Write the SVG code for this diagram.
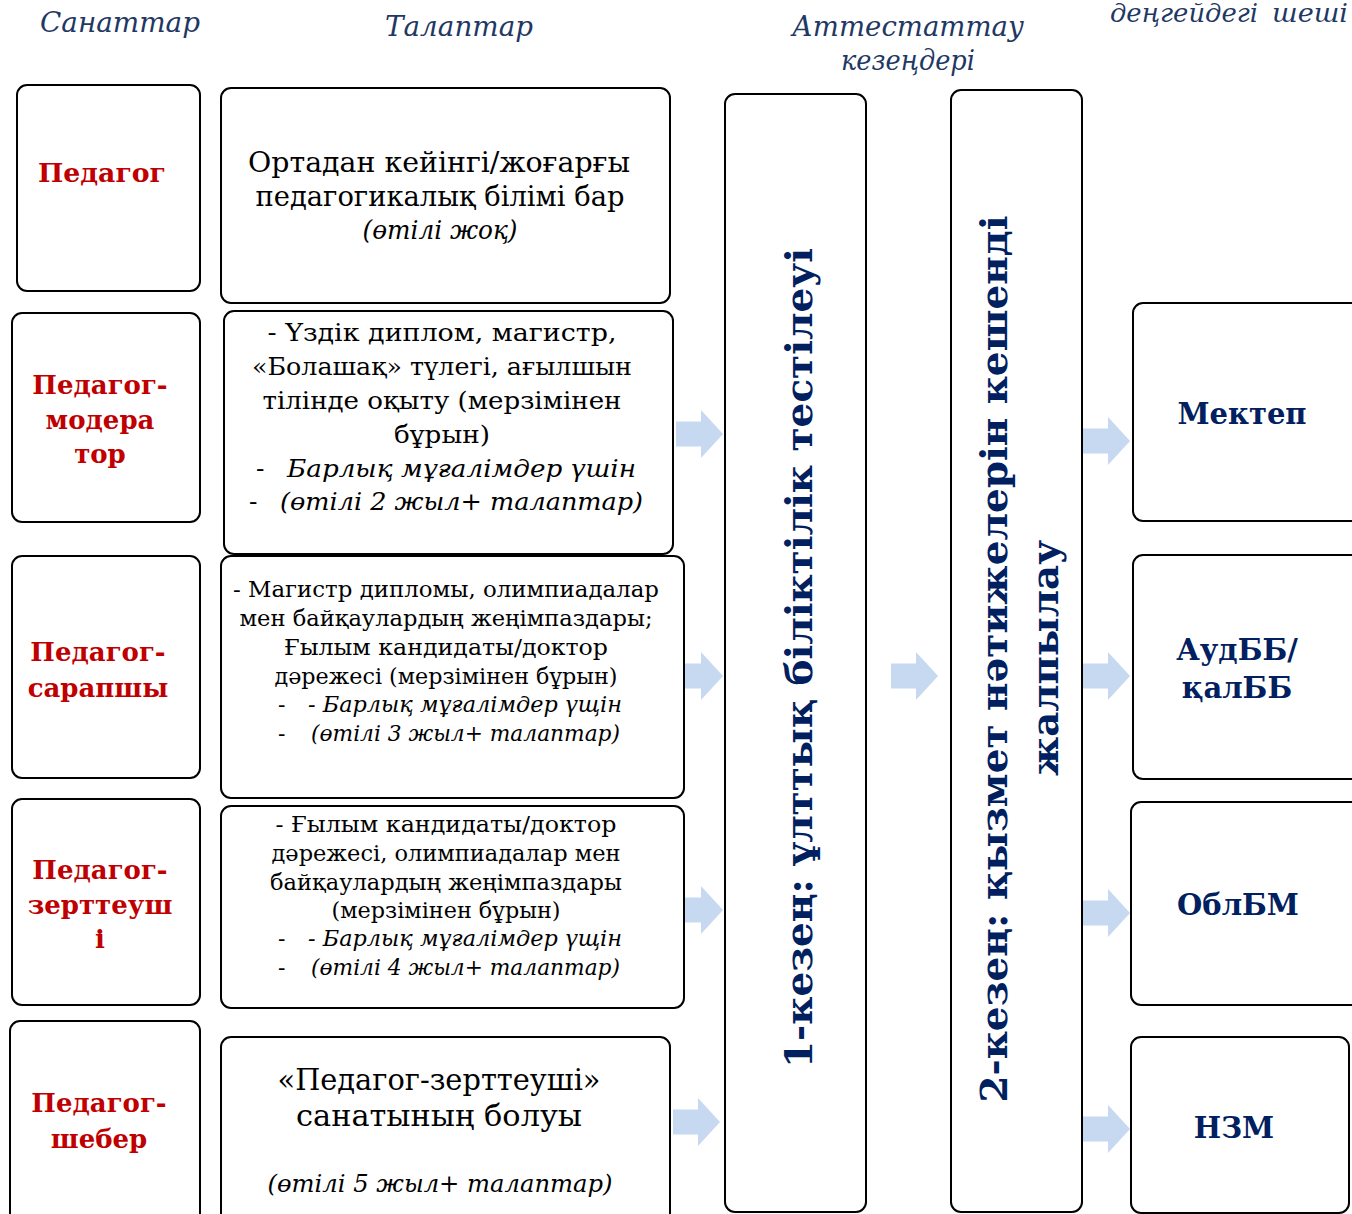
<svg xmlns="http://www.w3.org/2000/svg" width="1352" height="1214" viewBox="0 0 1352 1214">
<style>
  .box{fill:#fff;stroke:#000;stroke-width:2}
  .hdr{font-family:"DejaVu Serif",serif;font-style:italic;font-size:28px;fill:#1F3864;text-anchor:middle}
  .cat{font-family:"DejaVu Serif",serif;font-weight:bold;font-size:26px;fill:#C00000;text-anchor:middle}
  .req{font-family:"DejaVu Serif",serif;fill:#000;text-anchor:middle}
  .reqs{font-family:"DejaVu Serif",serif;fill:#000}
  .it{font-style:italic}
  .stage{font-family:"DejaVu Serif",serif;font-weight:bold;font-size:37px;fill:#002060;text-anchor:middle}
  .lvl{font-family:"DejaVu Serif",serif;font-weight:bold;font-size:29px;fill:#002060;text-anchor:middle}
  .arr{fill:#C6D9F1}
</style>
<defs>
  <path id="arrow" d="M0,-12.5 H25 V-24 L47,0 L25,24 V12.5 H0 Z"/>
</defs>
<rect width="1352" height="1214" fill="#fff"/>

<g id="headers">
  <text class="hdr" x="120" y="32" textLength="160" lengthAdjust="spacingAndGlyphs">Санаттар</text>
  <text class="hdr" x="459" y="36" textLength="148" lengthAdjust="spacingAndGlyphs">Талаптар</text>
  <text class="hdr" x="908" y="36" textLength="232" lengthAdjust="spacingAndGlyphs">Аттестаттау</text>
  <text class="hdr" x="908" y="70" textLength="134" lengthAdjust="spacingAndGlyphs">кезеңдері</text>
  <text class="hdr" style="text-anchor:start;font-size:26px" y="22"><tspan x="1110" textLength="148" lengthAdjust="spacingAndGlyphs">деңгейдегі</tspan><tspan x="1272" textLength="76" lengthAdjust="spacingAndGlyphs">шеші</tspan></text>
</g>

<g id="connectors">
  <use href="#arrow" class="arr" x="676" y="434"/>
  <use href="#arrow" class="arr" x="676" y="676"/>
  <use href="#arrow" class="arr" x="676" y="910"/>
  <use href="#arrow" class="arr" x="673" y="1122"/>
  <use href="#arrow" class="arr" x="891" y="676"/>
  <use href="#arrow" class="arr" x="1083" y="441"/>
  <use href="#arrow" class="arr" x="1083" y="676"/>
  <use href="#arrow" class="arr" x="1083" y="913"/>
  <use href="#arrow" class="arr" x="1083" y="1129"/>
</g>

<g id="cat-pedagog">
  <rect class="box" x="17" y="85" width="183" height="206" rx="10"/>
  <text class="cat" x="102" y="182" textLength="128" lengthAdjust="spacingAndGlyphs">Педагог</text>
</g>
<g id="cat-moderator">
  <rect class="box" x="12" y="313" width="188" height="209" rx="10"/>
  <text class="cat" x="100" y="394">Педагог-</text>
  <text class="cat" x="100" y="429">модера</text>
  <text class="cat" x="100" y="463">тор</text>
</g>
<g id="cat-sarapshy">
  <rect class="box" x="12" y="556" width="188" height="222" rx="10"/>
  <text class="cat" x="98" y="661">Педагог-</text>
  <text class="cat" x="98" y="697">сарапшы</text>
</g>
<g id="cat-zertteushi">
  <rect class="box" x="12" y="799" width="188" height="206" rx="10"/>
  <text class="cat" x="100" y="879">Педагог-</text>
  <text class="cat" x="100" y="914">зерттеуш</text>
  <text class="cat" x="100" y="948">і</text>
</g>
<g id="cat-sheber">
  <rect class="box" x="10" y="1021" width="190" height="205" rx="10"/>
  <text class="cat" x="99" y="1112">Педагог-</text>
  <text class="cat" x="99" y="1148">шебер</text>
</g>

<g id="req-1">
  <rect class="box" x="221" y="88" width="449" height="215" rx="10"/>
  <text class="req" font-size="28" x="439" y="172" textLength="382" lengthAdjust="spacingAndGlyphs">Ортадан кейінгі/жоғарғы</text>
  <text class="req" font-size="28" x="440" y="206" textLength="369" lengthAdjust="spacingAndGlyphs">педагогикалық білімі бар</text>
  <text class="req it" font-size="26" x="440" y="239" textLength="155" lengthAdjust="spacingAndGlyphs">(өтілі жоқ)</text>
</g>
<g id="req-2">
  <rect class="box" x="224" y="311" width="449" height="243" rx="10"/>
  <text class="req" font-size="25" x="442" y="341" textLength="349" lengthAdjust="spacingAndGlyphs">- Үздік диплом, магистр,</text>
  <text class="req" font-size="25" x="442" y="375" textLength="380" lengthAdjust="spacingAndGlyphs">«Болашақ» түлегі, ағылшын</text>
  <text class="req" font-size="25" x="442" y="409" textLength="359" lengthAdjust="spacingAndGlyphs">тілінде оқыту (мерзімінен</text>
  <text class="req" font-size="25" x="442" y="443" textLength="96" lengthAdjust="spacingAndGlyphs">бұрын)</text>
  <text class="reqs" font-size="25" x="256" y="477">-</text>
  <text class="reqs it" font-size="25" x="287" y="477" textLength="349" lengthAdjust="spacingAndGlyphs">Барлық мұғалімдер үшін</text>
  <text class="reqs" font-size="25" x="249" y="510">-</text>
  <text class="reqs it" font-size="25" x="280" y="510" textLength="363" lengthAdjust="spacingAndGlyphs">(өтілі 2 жыл+ талаптар)</text>
</g>
<g id="req-3">
  <rect class="box" x="221" y="556" width="463" height="242" rx="10"/>
  <text class="req" font-size="22" x="446" y="597" textLength="426" lengthAdjust="spacingAndGlyphs">- Магистр дипломы, олимпиадалар</text>
  <text class="req" font-size="22" x="446" y="626" textLength="413" lengthAdjust="spacingAndGlyphs">мен байқаулардың жеңімпаздары;</text>
  <text class="req" font-size="22" x="446" y="655" textLength="324" lengthAdjust="spacingAndGlyphs">Ғылым кандидаты/доктор</text>
  <text class="req" font-size="22" x="446" y="684" textLength="343" lengthAdjust="spacingAndGlyphs">дәрежесі (мерзімінен бұрын)</text>
  <text class="reqs" font-size="22" x="278" y="712">-</text>
  <text class="reqs it" font-size="22" x="308" y="712" textLength="314" lengthAdjust="spacingAndGlyphs">- Барлық мұғалімдер үщін</text>
  <text class="reqs" font-size="22" x="278" y="741">-</text>
  <text class="reqs it" font-size="22" x="311" y="741" textLength="309" lengthAdjust="spacingAndGlyphs">(өтілі 3 жыл+ талаптар)</text>
</g>
<g id="req-4">
  <rect class="box" x="221" y="806" width="463" height="202" rx="10"/>
  <text class="req" font-size="22" x="446" y="832" textLength="341" lengthAdjust="spacingAndGlyphs">- Ғылым кандидаты/доктор</text>
  <text class="req" font-size="22" x="446" y="861" textLength="349" lengthAdjust="spacingAndGlyphs">дәрежесі, олимпиадалар мен</text>
  <text class="req" font-size="22" x="446" y="890" textLength="352" lengthAdjust="spacingAndGlyphs">байқаулардың жеңімпаздары</text>
  <text class="req" font-size="22" x="446" y="918" textLength="229" lengthAdjust="spacingAndGlyphs">(мерзімінен бұрын)</text>
  <text class="reqs" font-size="22" x="278" y="946">-</text>
  <text class="reqs it" font-size="22" x="308" y="946" textLength="314" lengthAdjust="spacingAndGlyphs">- Барлық мұғалімдер үщін</text>
  <text class="reqs" font-size="22" x="278" y="975">-</text>
  <text class="reqs it" font-size="22" x="311" y="975" textLength="309" lengthAdjust="spacingAndGlyphs">(өтілі 4 жыл+ талаптар)</text>
</g>
<g id="req-5">
  <rect class="box" x="221" y="1037" width="449" height="190" rx="10"/>
  <text class="req" font-size="29" x="439" y="1090" textLength="323" lengthAdjust="spacingAndGlyphs">«Педагог-зерттеуші»</text>
  <text class="req" font-size="29" x="439" y="1126" textLength="286" lengthAdjust="spacingAndGlyphs">санатының болуы</text>
  <text class="req it" font-size="25" x="440" y="1192" textLength="345" lengthAdjust="spacingAndGlyphs">(өтілі 5 жыл+ талаптар)</text>
</g>

<g id="stage-1">
  <rect class="box" x="725" y="94" width="141" height="1118" rx="10"/>
  <text class="stage" transform="translate(812,658) rotate(-90)" x="0" y="0" textLength="820" lengthAdjust="spacingAndGlyphs">1-кезең: ұлттық біліктілік тестілеуі</text>
</g>
<g id="stage-2">
  <rect class="box" x="951" y="90" width="131" height="1122" rx="10"/>
  <text class="stage" transform="translate(1007,659) rotate(-90)" x="0" y="0" textLength="887" lengthAdjust="spacingAndGlyphs">2-кезең: қызмет нәтижелерін кешенді</text>
  <text class="stage" transform="translate(1058,658) rotate(-90)" x="0" y="0" textLength="236" lengthAdjust="spacingAndGlyphs">жалпылау</text>
</g>

<g id="lvl-mektep">
  <rect class="box" x="1133" y="303" width="232" height="218" rx="10"/>
  <text class="lvl" x="1242" y="424">Мектеп</text>
</g>
<g id="lvl-audbb">
  <rect class="box" x="1133" y="555" width="232" height="224" rx="10"/>
  <text class="lvl" x="1237" y="660">АудББ/</text>
  <text class="lvl" x="1237" y="698">қалББ</text>
</g>
<g id="lvl-oblbm">
  <rect class="box" x="1131" y="802" width="234" height="203" rx="10"/>
  <text class="lvl" x="1238" y="915">ОблБМ</text>
</g>
<g id="lvl-nzm">
  <rect class="box" x="1131" y="1037" width="218" height="176" rx="10"/>
  <text class="lvl" x="1234" y="1138">НЗМ</text>
</g>
</svg>
